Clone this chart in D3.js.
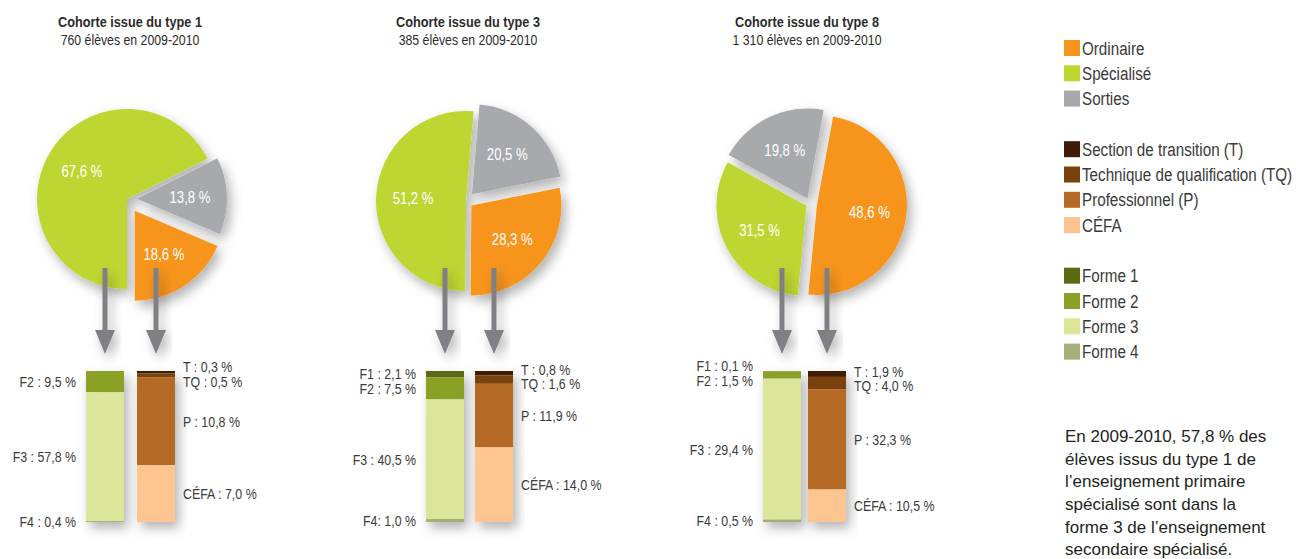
<!DOCTYPE html>
<html>
<head>
<meta charset="utf-8">
<script src="https://cdn.jsdelivr.net/npm/d3@7"></script>
<style>
  body { margin: 0; background: #fff; }
  text { font-family: "Liberation Sans", Arial, sans-serif; fill: #3a3a3a; }
</style>
</head>
<body>
<svg id="chart"></svg>
<script>
// Cohorts
const cohortTitles = ["Cohorte issue du type 1", "Cohorte issue du type 3", "Cohorte issue du type 8"];
const cohortCounts = ["760 élèves en 2009-2010", "385 élèves en 2009-2010", "1 310 élèves en 2009-2010"];

// Pie values (%)
const ordinaire = [18.6, 28.3, 48.6];
const specialise = [67.6, 51.2, 31.5];
const sorties = [13.8, 20.5, 19.8];

// Ordinaire breakdown (%)
const sectionT = [0.3, 0.8, 1.9];
const sectionTQ = [0.5, 1.6, 4.0];
const sectionP = [10.8, 11.9, 32.3];
const cefa = [7.0, 14.0, 10.5];

// Spécialisé breakdown (%), no F1 for type 1
const forme1 = [null, 2.1, 0.1];
const forme2 = [9.5, 7.5, 1.5];
const forme3 = [57.8, 40.5, 29.4];
const forme4 = [0.4, 1.0, 0.5];

const legendGroups = [
  ["Ordinaire", "Spécialisé", "Sorties"],
  ["Section de transition (T)", "Technique de qualification (TQ)", "Professionnel (P)", "CÉFA"],
  ["Forme 1", "Forme 2", "Forme 3", "Forme 4"]
];

const noteLines = [
  "En 2009-2010, 57,8 % des",
  "élèves issus du type 1 de",
  "l\u2019enseignement primaire",
  "spécialisé sont dans la",
  "forme 3 de l\u2019enseignement",
  "secondaire spécialisé."
];

const color = d3.scaleOrdinal()
  .domain(legendGroups.flat())
  .range(["#f7941d", "#bed630", "#a7a9ac",
          "#3f1c05", "#7a420b", "#b56a27", "#fdc590",
          "#5c6b12", "#8aa127", "#dce69b", "#a5ae78"]);

// Layout of each cohort block
const layout = [
  { cx: 127, cy: 199, rot: 0,   explode: [0, 10, 14], barX: [86, 137],  titleX: 130 },
  { cx: 466, cy: 201, rot: 0.5, explode: [0, 9, 7],   barX: [426, 475], titleX: 468 },
  { cx: 810, cy: 204, rot: 5.5, explode: [4, 6, 7],   barX: [763, 808], titleX: 807 }
];
const radius = 90;
const barW = 38, barTop = 371, barBottom = 522;

const fmt = v => v.toFixed(1).replace(".", ",") + " %";

const svg = d3.select("#chart").attr("width", 1296).attr("height", 559);

// Soft drop shadow
const defs = svg.append("defs");
const shadow = defs.append("filter").attr("id", "shadow")
  .attr("x", "-30%").attr("y", "-30%").attr("width", "160%").attr("height", "160%");
shadow.append("feDropShadow")
  .attr("dx", 4).attr("dy", 6).attr("stdDeviation", 6)
  .attr("flood-color", "#000").attr("flood-opacity", 0.3);

const arc = d3.arc().innerRadius(0).outerRadius(radius);
const labelArc = d3.arc().innerRadius(0).outerRadius(106);

//No condensed font installed: squeeze the text horizontally
function condense(sel, k = 0.82) {
  sel.each(function () {
    const t = d3.select(this);
    const x = +t.attr("x") || 0, y = +t.attr("y") || 0;
    t.attr("x", 0).attr("y", 0).attr("transform", `translate(${x},${y}) scale(${k},1)`);
  });
}

//Spread labels that would overlap
function relax(labels, gap) {
  for (let k = 0; k < 50; k++) {
    for (let i = 1; i < labels.length; i++) {
      const d = labels[i].y - labels[i - 1].y;
      if (d < gap) {
        const m = (gap - d) / 2;
        labels[i - 1].y -= m;
        labels[i].y += m;
      }
    }
  }
  return labels;
}

function offset(d, off) {
  const mid = (d.startAngle + d.endAngle) / 2;
  return [Math.sin(mid) * off, -Math.cos(mid) * off];
}

layout.forEach((L, i) => {
  const g = svg.append("g");

  // Titles
  g.append("text").attr("x", L.titleX).attr("y", 27)
    .attr("text-anchor", "middle").style("font-size", "15.5px").style("font-weight", "bold")
    .style("fill", "#2b2b2b").text(cohortTitles[i]).call(condense);
  g.append("text").attr("x", L.titleX).attr("y", 45)
    .attr("text-anchor", "middle").style("font-size", "15px")
    .style("fill", "#2b2b2b").text(cohortCounts[i]).call(condense);

  // Pie
  const slices = [
    { key: "Spécialisé", value: specialise[i] },
    { key: "Sorties", value: sorties[i] },
    { key: "Ordinaire", value: ordinaire[i] }
  ];
  const rot = L.rot * Math.PI / 180;
  const pie = d3.pie().sort(null).value(d => d.value)
    .startAngle(Math.PI + rot).endAngle(3 * Math.PI + rot);
  const arcs = pie(slices);

  const pieG = g.append("g").attr("filter", "url(#shadow)");
  pieG.selectAll(".slice")
    .data(arcs)
    .enter().append("path")
    .attr("class", "slice")
    .attr("transform", (d, j) => {
      const o = offset(d, L.explode[j]);
      return `translate(${L.cx + o[0]},${L.cy + o[1]})`;
    })
    .attr("d", arc)
    .style("fill", d => color(d.data.key));

  g.selectAll(".pie-label")
    .data(arcs)
    .enter().append("text")
    .attr("class", "pie-label")
    .attr("x", (d, j) => L.cx + offset(d, L.explode[j])[0] + labelArc.centroid(d)[0])
    .attr("y", (d, j) => L.cy + offset(d, L.explode[j])[1] + labelArc.centroid(d)[1])
    .attr("text-anchor", "middle").attr("dy", "0.35em")
    .style("font-size", "16px").style("fill", "#fff")
    .text(d => fmt(d.data.value))
    .call(condense);

  // Stacked bars
  const bars = [
    { side: "left", x: L.barX[0], parts: [
      { key: "Forme 1", code: "F1", value: forme1[i] },
      { key: "Forme 2", code: "F2", value: forme2[i] },
      { key: "Forme 3", code: "F3", value: forme3[i] },
      { key: "Forme 4", code: "F4", value: forme4[i] }
    ].filter(p => p.value !== null) },
    { side: "right", x: L.barX[1], parts: [
      { key: "Section de transition (T)", code: "T", value: sectionT[i] },
      { key: "Technique de qualification (TQ)", code: "TQ", value: sectionTQ[i] },
      { key: "Professionnel (P)", code: "P", value: sectionP[i] },
      { key: "CÉFA", code: "CÉFA", value: cefa[i] }
    ] }
  ];

  bars.forEach(b => {
    const y = d3.scaleLinear().domain([0, d3.sum(b.parts, p => p.value)]).range([barTop, barBottom]);
    let acc = 0;
    b.parts.forEach(p => { p.y0 = acc; acc += p.value; p.y1 = acc; });

    // Arrow from pie to bar
    const ax = b.x + barW / 2;
    g.append("path")
      .attr("d", `M${ax - 2.5},268 L${ax + 2.5},268 L${ax + 2.5},330 L${ax + 10},330 L${ax},354 L${ax - 10},330 L${ax - 2.5},330 Z`)
      .style("fill", "#808084")
      .attr("filter", "url(#shadow)");

    const barG = g.append("g").attr("filter", "url(#shadow)");
    barG.selectAll("rect")
      .data(b.parts)
      .enter().append("rect")
      .attr("x", b.x)
      .attr("y", d => y(d.y0))
      .attr("width", barW)
      .attr("height", d => y(d.y1) - y(d.y0))
      .style("fill", d => color(d.key));

    const labels = relax(b.parts.map(p => ({
      text: p.code + (i === 1 && p.code === "F4" ? ": " : " : ") + fmt(p.value),
      y: (y(p.y0) + y(p.y1)) / 2
    })), 14.5);

    g.selectAll(".lab-" + b.side)
      .data(labels)
      .enter().append("text")
      .attr("class", "lab-" + b.side)
      .attr("x", b.side === "left" ? b.x - 10 : b.x + barW + 8)
      .attr("y", d => d.y)
      .attr("dy", "0.35em")
      .attr("text-anchor", b.side === "left" ? "end" : "start")
      .style("font-size", "15.5px")
      .text(d => d.text)
      .call(condense, 0.8);
  });
});

// Legend
const legendRows = [];
legendGroups.forEach((grp, gi) => {
  grp.forEach(name => legendRows.push({ name, row: legendRows.length + gi }));
});

const legend = svg.selectAll(".legend")
  .data(legendRows)
  .enter().append("g")
  .attr("class", "legend")
  .attr("transform", d => `translate(1064,${48 + d.row * 25.3})`);
legend.append("rect")
  .attr("x", 0).attr("y", -8).attr("width", 16).attr("height", 16)
  .style("fill", d => color(d.name));
legend.append("text")
  .attr("x", 18).attr("dy", "0.35em")
  .style("font-size", "19px")
  .text(d => d.name)
  .call(condense, 0.8);

// Note
svg.selectAll(".note")
  .data(noteLines)
  .enter().append("text")
  .attr("class", "note")
  .attr("x", 1065)
  .attr("y", (d, i) => 436 + i * 22.7)
  .attr("dy", "0.35em")
  .style("font-size", "17px")
  .style("fill", "#231f20")
  .text(d => d);
</script>
</body>
</html>
